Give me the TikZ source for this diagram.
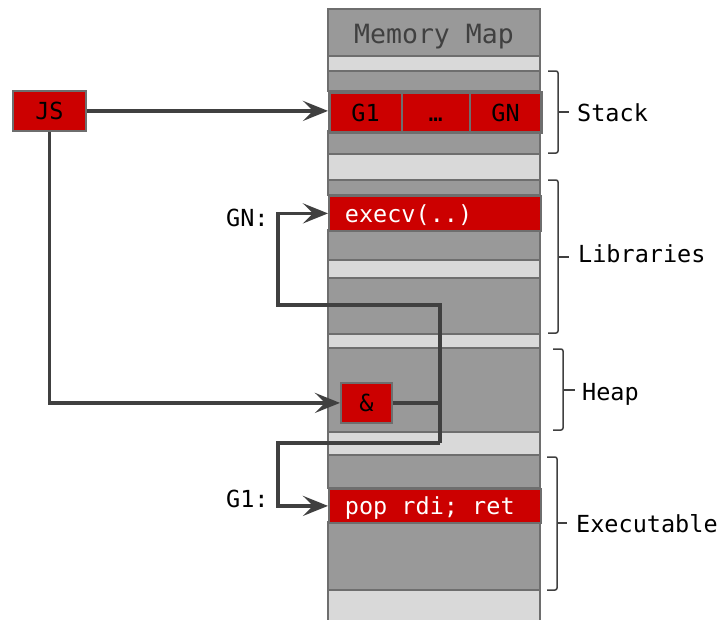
\documentclass[tikz,border=0pt]{standalone}
\usepackage{fontspec}
\newfontfamily\mono{DejaVu Sans Mono}
\usetikzlibrary{arrows.meta}
\definecolor{dk}{HTML}{999999}
\definecolor{lt}{HTML}{D9D9D9}
\definecolor{bd}{HTML}{6E6E6E}
\definecolor{rd}{HTML}{CC0000}
\definecolor{ln}{HTML}{404040}
\tikzset{
 row/.style={draw=bd, line width=1.4pt},
 lbl/.style={font=\mono\fontsize{23.5}{28}\selectfont, inner sep=0pt},
 cell/.style={lbl, draw=bd, line width=1.8pt, fill=rd, anchor=north west, text height=18pt, text depth=0pt},
 scell/.style={cell, line width=2.6pt, minimum height=40pt},
 wcell/.style={cell, text=white, inner xsep=16pt, minimum width=212pt},
 conn/.style={draw=ln, line width=3.5pt},
 arr/.style={conn, -{Stealth[length=25pt,width=20pt,inset=10pt]}},
 brace/.style={draw=ln, line width=1.5pt, rounded corners=2pt}
}
\begin{document}
\begin{tikzpicture}[x=1pt,y=-1pt]
\useasboundingbox (0,0) rectangle (726,619);
% memory column rows
\foreach \a/\b/\c in {9/56/dk,56/71/lt,71/91/dk,131/154/dk,154/180/lt,180/195/dk,230/260/dk,260/278/lt,278/334/dk,334/348/lt,348/432/dk,432/455/lt,455/488/dk,522/590/dk,590/622/lt}
  \path[row, fill=\c] (328,\a) rectangle (540,\b);
\node[font=\mono\fontsize{26.5}{30}\selectfont, text=ln, anchor=base, inner sep=0pt] (title) at (434,43.3) {Memory Map};
% stack cells
\node[scell, minimum width=72.5pt] (g1) at (328,91) {G1};
\node[scell, minimum width=68pt] (dots) at (400.5,91) {…};
\node[scell, minimum width=71.5pt] (gn) at (468.5,91) {GN};
% library / executable gadgets
\node[wcell, minimum height=35pt] (execv) at (328,195) {\makebox[180pt][l]{execv(..)}};
\node[wcell, minimum height=34pt] (pop) at (328,488) {\makebox[180pt][l]{pop rdi; ret}};
% heap pointer
\node[cell, minimum width=51pt, minimum height=40pt] (amp) at (340,382) {\&};
% JS
\node[cell, minimum width=73pt, minimum height=40pt] (js) at (12,90) {JS};
% side labels
\node[lbl, anchor=base west] (lstack) at (577,121) {Stack};
\node[lbl, anchor=base west] (llib) at (578,262.5) {Libraries};
\node[lbl, anchor=base west] (lheap) at (582,400) {Heap};
\node[lbl, anchor=base west] (lexe) at (576,532.5) {Executable};
\node[lbl, anchor=base west] (lgn) at (226,226.5) {GN:};
\node[lbl, anchor=base west] (lg1) at (226,507) {G1:};
% braces
\draw[brace] (548,71) -- (558,71) -- (558,153) -- (548,153);
\draw[brace] (558,112) -- (569,112);
\draw[brace] (548,180) -- (558,180) -- (558,333) -- (548,333);
\draw[brace] (558,257) -- (569,257);
\draw[brace] (553,349) -- (563,349) -- (563,430) -- (553,430);
\draw[brace] (563,390) -- (575,390);
\draw[brace] (547,457) -- (557,457) -- (557,590) -- (547,590);
\draw[brace] (557,523) -- (567,523);
% connectors
\coordinate (tr) at (440,305);
\coordinate (tl) at (278,305);
\coordinate (br) at (440,443);
\coordinate (bl) at (278,443);
\draw[arr] (js.east) -- (js.east -| g1.west);
\draw[arr] (js.south) |- (amp.west);
\draw[conn] (amp.east) -- (amp.east -| tr);
\draw[arr] (br) -- (tr) -- (tl) |- (execv.west);
\draw[arr] (br) -- (bl) |- (pop.west);
\end{tikzpicture}
\end{document}
